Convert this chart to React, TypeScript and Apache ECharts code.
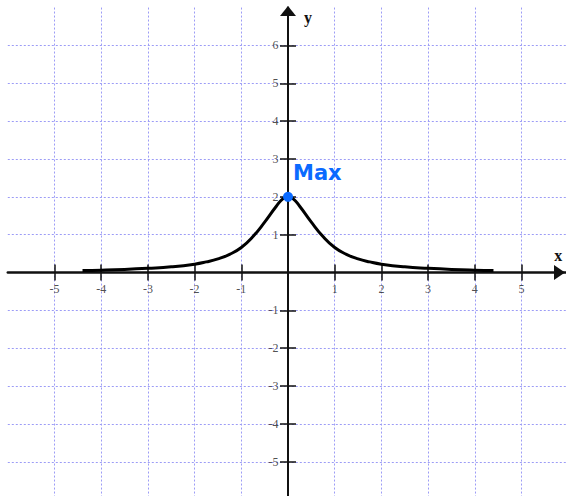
import React, { useEffect, useRef } from 'react';
import * as echarts from 'echarts';

// Tick labels shown on each axis
const xTickValues = [-5, -4, -3, -2, -1, 1, 2, 3, 4, 5];
const yTickValues = [-5, -4, -3, -2, -1, 1, 2, 3, 4, 5, 6];

// Curve
const curveX = [-4.4, -4, -3.5, -3, -2.5, -2, -1.75, -1.5, -1.25, -1, -0.75, -0.5, -0.25, -0.1, 0, 0.1, 0.25, 0.5, 0.75, 1, 1.25, 1.5, 1.75, 2, 2.5, 3, 3.5, 4, 4.4];
const curveY = [0.05, 0.06, 0.08, 0.11, 0.15, 0.22, 0.28, 0.36, 0.48, 0.66, 0.95, 1.33, 1.75, 1.96, 2, 1.96, 1.75, 1.33, 0.95, 0.66, 0.48, 0.36, 0.28, 0.22, 0.15, 0.11, 0.08, 0.06, 0.05];

// Highlighted maximum
const maxPoint = [0, 2];
const maxLabel = 'Max';

// Axis names
const xName = 'x';
const yName = 'y';

export default function App() {
  const ref = useRef<HTMLDivElement>(null);

  useEffect(() => {
    if (!ref.current) return;
    const chart = echarts.init(ref.current, null, { renderer: 'svg' });

    const gridLine = {
      show: true,
      lineStyle: { color: '#9c9cf6', width: 1, type: [2, 2] as any },
    };
    const tickStyle = { color: '#111', width: 1.5 };
    const labelStyle = { color: '#222', fontFamily: 'Liberation Serif', fontSize: 12 };

    const baseX = { type: 'value', min: -6, max: 6, interval: 1 };
    const baseY = { type: 'value', min: -6, max: 7, interval: 1 };

    chart.setOption({
      animation: false,
      backgroundColor: '#ffffff',
      grid: {
        left: 7.8,
        right: -2.2,
        top: 7.55,
        bottom: -3.6,
        containLabel: false,
        outerBoundsMode: 'none',
      },
      xAxis: [
        {
          ...baseX,
          position: 'bottom',
          axisLine: {
            onZero: true,
            onZeroAxisIndex: 0,
            lineStyle: { color: '#111', width: 2.5 },
            symbol: ['none', 'triangle'],
            symbolSize: [15, 11],
            symbolOffset: [0, -8.7],
          },
          axisTick: { show: true, length: 8, customValues: xTickValues, lineStyle: tickStyle },
          axisLabel: { show: false },
          splitLine: gridLine,
        },
        {
          ...baseX,
          position: 'top',
          axisLine: { onZero: true, onZeroAxisIndex: 0, lineStyle: { color: '#111', width: 2, opacity: 0 } },
          axisTick: { show: true, length: 8, customValues: xTickValues, lineStyle: tickStyle },
          axisLabel: { show: false },
          splitLine: { show: false },
        },
      ],
      yAxis: [
        {
          ...baseY,
          position: 'left',
          axisLine: {
            onZero: true,
            onZeroAxisIndex: 0,
            lineStyle: { color: '#111', width: 2 },
            symbol: ['none', 'triangle'],
            symbolSize: [16, 10],
            symbolOffset: [0, -3.45],
          },
          axisTick: { show: true, length: 8, customValues: yTickValues, lineStyle: tickStyle },
          axisLabel: { show: false },
          splitLine: gridLine,
        },
        {
          ...baseY,
          position: 'right',
          axisLine: { onZero: true, onZeroAxisIndex: 0, lineStyle: { color: '#111', width: 2, opacity: 0 } },
          axisTick: { show: true, length: 8, customValues: yTickValues, lineStyle: tickStyle },
          axisLabel: { show: false },
          splitLine: { show: false },
        },
      ],
      series: [
        {
          type: 'scatter',
          xAxisIndex: 0,
          yAxisIndex: 0,
          data: xTickValues.map((v) => [v, 0]),
          symbolSize: 1,
          itemStyle: { color: 'rgba(0,0,0,0)' },
          silent: true,
          label: {
            show: true,
            position: 'bottom',
            distance: 10,
            formatter: (p: any) => String(p.value[0]),
            ...labelStyle,
          },
          z: 1,
        },
        {
          type: 'scatter',
          xAxisIndex: 0,
          yAxisIndex: 0,
          data: yTickValues.map((v) => [0, v]),
          symbolSize: 1,
          itemStyle: { color: 'rgba(0,0,0,0)' },
          silent: true,
          label: {
            show: true,
            position: 'left',
            distance: 9,
            formatter: (p: any) => String(p.value[1]),
            ...labelStyle,
          },
          z: 1,
        },
        {
          type: 'line',
          xAxisIndex: 0,
          yAxisIndex: 0,
          data: curveX.map((x, i) => [x, curveY[i]]),
          smooth: true,
          symbol: 'none',
          lineStyle: { color: '#000', width: 3 },
          z: 3,
        },
        {
          type: 'scatter',
          xAxisIndex: 0,
          yAxisIndex: 0,
          data: [maxPoint],
          symbolSize: 10,
          itemStyle: { color: '#0a6aff', opacity: 1 },
          label: {
            show: true,
            formatter: maxLabel,
            position: [10, -29],
            color: '#0a6aff',
            fontFamily: 'DejaVu Sans',
            fontWeight: 'bold',
            fontSize: 21,
          },
          z: 5,
        },
      ],
    });

    const xEnd = chart.convertToPixel({ gridIndex: 0 }, [6, 0]) as number[];
    const yEnd = chart.convertToPixel({ gridIndex: 0 }, [0, 7]) as number[];
    chart.setOption({
      graphic: [
        {
          type: 'text',
          x: xEnd[0] - 10,
          y: xEnd[1] - 17,
          style: {
            text: xName,
            fill: '#111',
            font: 'bold 16px "Liberation Serif"',
            textAlign: 'center',
            textVerticalAlign: 'middle',
          },
        },
        {
          type: 'text',
          x: yEnd[0] + 20,
          y: yEnd[1] + 10,
          style: {
            text: yName,
            fill: '#111',
            font: 'bold 16px "Liberation Serif"',
            textAlign: 'center',
            textVerticalAlign: 'middle',
          },
        },
      ],
    });

    return () => chart.dispose();
  }, []);

  return (
    <div
      ref={ref}
      style={{ position: 'fixed', left: 0, top: 0, width: 566, height: 496, background: '#fff' }}
    />
  );
}
